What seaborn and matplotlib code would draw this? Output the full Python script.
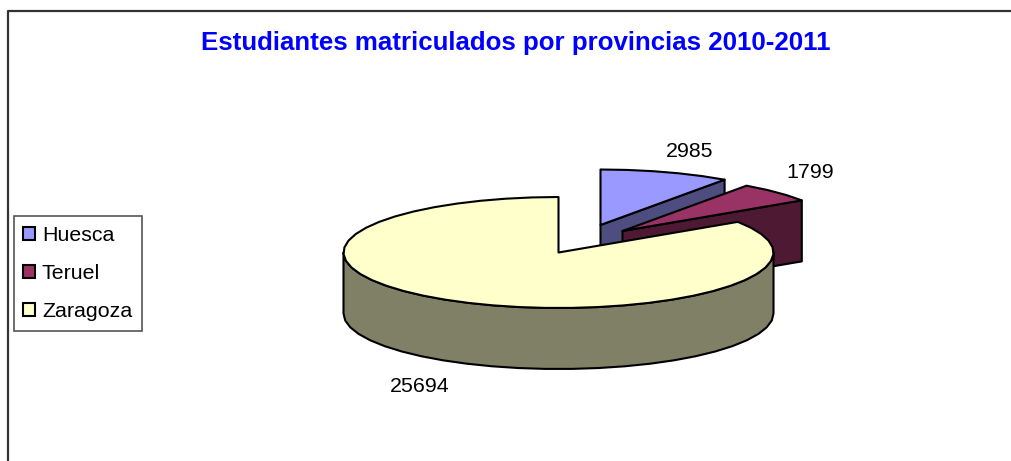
import numpy as np
import matplotlib
matplotlib.use('Agg')
import matplotlib.pyplot as plt
from matplotlib.patches import Patch, Polygon
import seaborn as sns

provinces = ['Huesca', 'Teruel', 'Zaragoza']
students = [2985, 1799, 25694]
title = 'Estudiantes matriculados por provincias 2010-2011'

sns.set_style('white')
plt.rcParams['font.family'] = ['Liberation Sans', 'DejaVu Sans']
colors = sns.color_palette(['#9999FF', '#993366', '#FFFFCC'])
dark = sns.color_palette(['#4D4D80', '#4D1933', '#808066'])

# pie geometry, in pixels of the picture
cx, cy = 558.5, 252.5
rx, ry = 215, 55.5
depth = 61
offsets = [(42, -27.5), (64, -21.5), (0, 0)]
label_pos = [(690, 151), (810, 172), (420, 386)]
edge_kw = dict(edgecolor='black', linewidth=1.5, joinstyle='round')

fig = plt.figure(figsize=(10.11, 4.61), dpi=100)
ax = fig.add_axes([0, 0, 1, 1])
ax.set_xlim(0, 1011)
ax.set_ylim(461, 0)
ax.axis('off')

# outer frame, open on the right and at the bottom
ax.plot([8, 8, 1011], [461, 11, 11], color='#333333', lw=1.6, zorder=1)

ends = np.cumsum(students) / np.sum(students) * 360
starts = np.concatenate([[0], ends[:-1]])


def rim(t0, t1, ox, oy):
    # coarse steps on purpose, the original outline is visibly polygonal
    t = np.radians(np.linspace(t0, t1, max(int((t1 - t0) / 7), 2) + 1))
    return np.column_stack([cx + ox + rx * np.sin(t), cy + oy - ry * np.cos(t)])


# back to front, so the big slice covers the other two
for i in range(len(students)):
    ox, oy = offsets[i]
    apex = np.array([[cx + ox, cy + oy]])
    z = 3 + i
    # cut face, only seen when it turns towards the viewer
    if ends[i] < 90:
        p = rim(ends[i], ends[i], ox, oy)[:1]
        face = np.vstack([apex, p, p + [0, depth], apex + [0, depth]])
        ax.add_patch(Polygon(face, facecolor=dark[i], zorder=z, **edge_kw))
    # outer wall, front half only
    t0, t1 = max(starts[i], 90), min(ends[i], 270)
    if t1 > t0:
        arc = rim(t0, t1, ox, oy)
        wall = np.vstack([arc, arc[::-1] + [0, depth]])
        ax.add_patch(Polygon(wall, facecolor=dark[i], zorder=z, **edge_kw))
    top = np.vstack([apex, rim(starts[i], ends[i], ox, oy)])
    ax.add_patch(Polygon(top, facecolor=colors[i], zorder=z, **edge_kw))
    ax.text(label_pos[i][0], label_pos[i][1], str(students[i]), fontsize=15.4,
            color='black', ha='center', va='center', zorder=10)

ax.text(516, 43, title, fontsize=18.6, fontweight='bold', color='#0000FF',
        ha='center', va='center')

handles = [Patch(facecolor=c, edgecolor='black', linewidth=1.5) for c in colors]
leg = ax.legend(handles, provinces, loc='upper left',
                bbox_to_anchor=(13.5 / 1011, 1 - 216 / 461), borderaxespad=0,
                fontsize=15.4, fancybox=False, framealpha=1, edgecolor='#555555',
                handlelength=0.56, handleheight=0.56, handletextpad=0.32,
                labelspacing=0.9, borderpad=0.45, labelcolor='black')
leg.get_frame().set_linewidth(1.2)

fig.savefig('out.png', dpi=100)
